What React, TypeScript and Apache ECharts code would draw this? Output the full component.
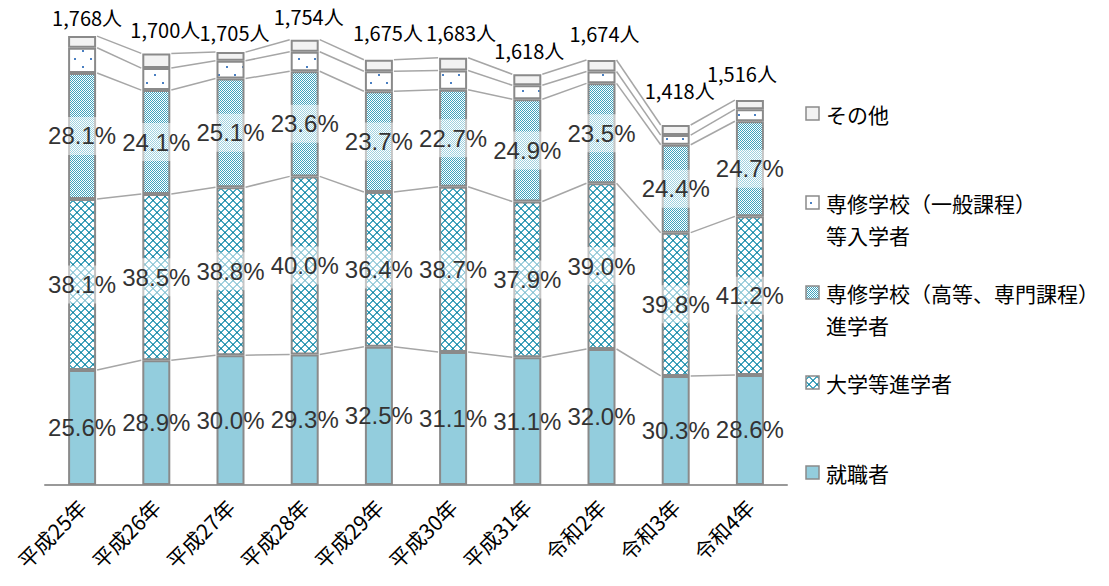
import React, { useEffect, useRef } from 'react';
import * as echarts from 'echarts';

const categories = ['平成25年', '平成26年', '平成27年', '平成28年', '平成29年', '平成30年', '平成31年', '令和2年', '令和3年', '令和4年'];
const totals = [1768, 1700, 1705, 1754, 1675, 1683, 1618, 1674, 1418, 1516];
const shushokuPct = [25.6, 28.9, 30.0, 29.3, 32.5, 31.1, 31.1, 32.0, 30.3, 28.6];
const daigakuPct = [38.1, 38.5, 38.8, 40.0, 36.4, 38.7, 37.9, 39.0, 39.8, 41.2];
const senshuKotoPct = [28.1, 24.1, 25.1, 23.6, 23.7, 22.7, 24.9, 23.5, 24.4, 24.7];
const senshuIppanPct = [5.6, 5.1, 4.1, 4.4, 4.7, 4.5, 3.4, 2.8, 2.7, 3.1];
const sonotaPct = [2.6, 3.4, 2.0, 2.7, 2.7, 3.0, 2.7, 2.7, 2.8, 2.4];
const seriesNames = ['就職者', '大学等進学者', '専修学校（高等、専門課程）進学者', '専修学校（一般課程）等入学者', 'その他'];
const legendLabels = ['就職者', '大学等進学者', '専修学校（高等、専門課程）\n進学者', '専修学校（一般課程）\n等入学者', 'その他'];

// label nudges for the total labels (style only)
const totalLabelDx = [5, 9, 4, 4, 9, 8, 2, 3, 4, -8];
const totalLabelDist = [9, 14, 10, 13, 17, 15, 14, 17, 25, 17];

function makePattern(w: number, h: number, bg: string, paint: (x: number, y: number) => string | null) {
  const c = document.createElement('canvas');
  c.width = w;
  c.height = h;
  const ctx = c.getContext('2d')!;
  ctx.fillStyle = bg;
  ctx.fillRect(0, 0, w, h);
  for (let y = 0; y < h; y++) {
    for (let x = 0; x < w; x++) {
      const col = paint(x, y);
      if (col) {
        ctx.fillStyle = col;
        ctx.fillRect(x, y, 1, 1);
      }
    }
  }
  return c;
}

export default function App() {
  const ref = useRef<HTMLDivElement>(null);
  useEffect(() => {
    const chart = echarts.init(ref.current!, null, { renderer: 'svg' });

    const daigakuCanvas = makePattern(8, 8, '#ffffff', (x, y) => {
      const a = (x + y) % 8;
      const b = (x - y + 8) % 8;
      if ((a === 0 || a === 1) && (b === 0 || b === 1)) return '#1f7f99';
      if (a === 0 || a === 1 || b === 0 || b === 1) return '#4aa9c2';
      return null;
    });
    const kotoCanvas = makePattern(2, 2, '#ffffff', (x, y) => ((x + y) % 2 === 0 ? '#3fa3be' : null));
    const ippanCanvas = makePattern(16, 16, '#ffffff', (x, y) => {
      if ((x >= 2 && x <= 3 && y >= 2 && y <= 3) || (x >= 10 && x <= 11 && y >= 10 && y <= 11)) return '#4a7fc1';
      return null;
    });

    const fills: any[] = [
      '#93cddd',
      { image: daigakuCanvas, repeat: 'repeat' },
      { image: kotoCanvas, repeat: 'repeat' },
      { image: ippanCanvas, repeat: 'repeat' },
      '#f2f2f2',
    ];
    const pcts = [shushokuPct, daigakuPct, senshuKotoPct, senshuIppanPct, sonotaPct];
    const values = pcts.map((arr) => arr.map((p, i) => (totals[i] * p) / 100));
    const cum: number[][] = [];
    values.forEach((arr, k) => {
      cum.push(arr.map((v, i) => v + (k > 0 ? cum[k - 1][i] : 0)));
    });

    const pctFont = "'Liberation Sans', Arial, sans-serif";

    const barSeries: any[] = values.map((arr, k) => {
      const s: any = {
        name: seriesNames[k],
        type: 'bar',
        stack: 'total',
        barWidth: 28,
        itemStyle: { color: fills[k], borderColor: '#8a8a8a', borderWidth: 2 },
        data: arr.map((v) => v),
        silent: true,
      };
      if (k < 3) {
        s.label = {
          show: true,
          position: 'inside',
          formatter: (p: any) => pcts[k][p.dataIndex].toFixed(1) + '%',
          fontFamily: pctFont,
          fontSize: 24,
          color: '#333333',
          backgroundColor: k === 0 ? 'transparent' : 'rgba(255,255,255,0.5)',
          padding: [7, 2],
        };
      }
      if (k === 4) {
        s.data = arr.map((v, i) => ({
          value: v,
          label: {
            show: true,
            position: 'top',
            distance: totalLabelDist[i],
            offset: [totalLabelDx[i], 0],
            formatter: () => totals[i].toLocaleString('en-US') + '人',
            fontFamily: "'Noto Sans CJK JP', sans-serif",
            fontSize: 20,
            color: '#000000',
          },
        }));
      }
      return s;
    });

    const connector: any = {
      type: 'custom',
      silent: true,
      z: 1,
      data: categories.slice(0, categories.length - 1).map((_, i) => [i, 0]),
      encode: { x: 0, y: 1 },
      renderItem: (params: any, api: any) => {
        const i = params.dataIndex;
        const hw = 15;
        const children = cum.map((lev) => {
          const p1 = api.coord([i, lev[i]]);
          const p2 = api.coord([i + 1, lev[i + 1]]);
          return {
            type: 'line',
            shape: { x1: p1[0] + hw, y1: p1[1], x2: p2[0] - hw, y2: p2[1] },
            style: { stroke: '#a6a6a6', lineWidth: 1.5 },
          };
        });
        return { type: 'group', children };
      },
    };

    const legendY = [473, 383, 293, 203, 114];
    const graphic: any[] = [];
    for (let k = 0; k < 5; k++) {
      const cy = legendY[k];
      graphic.push({
        type: 'rect',
        shape: { x: 806, y: cy - 7, width: 13, height: 13 },
        style: { fill: fills[k], stroke: '#8a8a8a', lineWidth: 1.5 },
        silent: true,
      });
      graphic.push({
        type: 'text',
        x: 826,
        y: cy - 16,
        style: {
          text: legendLabels[k],
          fontFamily: "'Noto Sans CJK JP', sans-serif",
          fontSize: 21,
          lineHeight: 32,
          fill: '#000000',
          verticalAlign: 'top',
          align: 'left',
        },
        silent: true,
      });
    }

    chart.setOption({
      animation: false,
      grid: { left: 45, right: 322, top: 28, bottom: 101, containLabel: false },
      xAxis: {
        type: 'category',
        data: categories,
        axisTick: { show: false },
        axisLine: { lineStyle: { color: '#999999', width: 2 } },
        axisLabel: {
          rotate: 45,
          interval: 0,
          margin: 18,
          fontSize: 21,
          color: '#000000',
          fontFamily: "'Noto Sans CJK JP', sans-serif",
        },
      },
      yAxis: { type: 'value', min: 0, max: 1800, show: false, splitLine: { show: false } },
      series: [...barSeries, connector],
      graphic,
    });
    return () => chart.dispose();
  }, []);
  return <div ref={ref} style={{ width: 1109, height: 586, position: 'absolute', left: 0, top: 0 }} />;
}
